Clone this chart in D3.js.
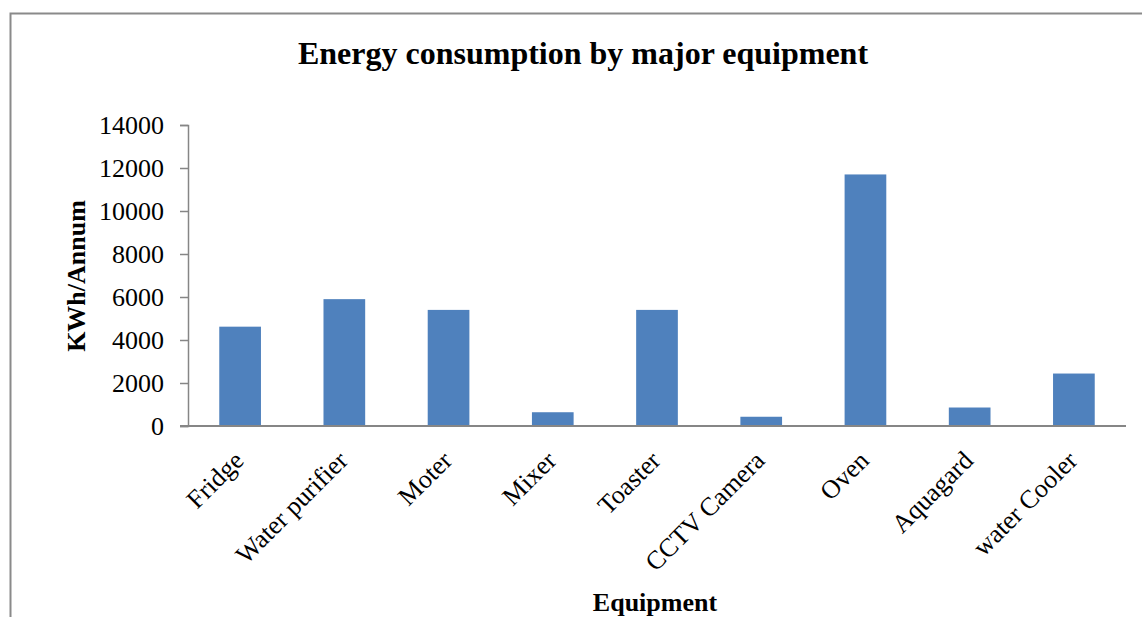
<!DOCTYPE html>
<html>
<head>
<meta charset="utf-8">
<script src="https://cdn.jsdelivr.net/npm/d3@7"></script>
<style>
  body { margin: 0; background: #fff; }
  svg text { font-family: "Liberation Serif", "Times New Roman", serif; fill: #000; }
</style>
</head>
<body>
<div id="chart"></div>
<script>
// values
var equipment = ["Fridge", "Water purifier", "Moter", "Mixer", "Toaster", "CCTV Camera", "Oven", "Aquagard", "water Cooler"];
var kwhPerAnnum = [4620, 5900, 5400, 640, 5400, 430, 11700, 860, 2440];
var yTicks = [0, 2000, 4000, 6000, 8000, 10000, 12000, 14000];

var width = 1142,
height = 617;

// plot area edges
var plotLeft = 188, plotRight = 1126, plotTop = 125, plotBottom = 426;

var svg = d3.select("#chart").append("svg")
  .attr("width", width)
  .attr("height", height);

// outer chart border (cut off on right and bottom)
svg.append("rect")
  .attr("x", 10.5)
  .attr("y", 13.5)
  .attr("width", width + 20)
  .attr("height", height + 20)
  .attr("fill", "none")
  .attr("stroke", "#8a8a8a")
  .attr("stroke-width", 2);

var x = d3.scaleBand()
  .domain(equipment)
  .range([plotLeft, plotRight])
  .paddingInner(0.6)
  .paddingOuter(0.3);

var y = d3.scaleLinear()
  .domain([0, 14000])
  .range([plotBottom, plotTop]);

// bars
svg.append("g").selectAll("rect")
  .data(equipment)
  .enter()
  .append("rect")
  .attr("x", function(d) { return x(d); })
  .attr("width", x.bandwidth())
  .attr("y", function(d, i) { return y(kwhPerAnnum[i]); })
  .attr("height", function(d, i) { return plotBottom - y(kwhPerAnnum[i]); })
  .attr("fill", "#4f81bd");

// y axis
var yAxis = d3.axisLeft(y)
  .tickValues(yTicks)
  .tickSize(8)
  .tickPadding(16)
  .tickFormat(d3.format("d"));

var yg = svg.append("g")
  .attr("transform", "translate(" + plotLeft + ",0)")
  .call(yAxis);
yg.select(".domain").attr("stroke", "#868686").attr("stroke-width", 1.5);
yg.selectAll(".tick line").attr("stroke", "#868686").attr("stroke-width", 1.5);
yg.selectAll(".tick text")
  .style("font-family", "'Liberation Serif', serif")
  .style("font-size", "26px")
  .attr("fill", "#000");

// x axis
var xAxis = d3.axisBottom(x).tickSize(0).tickFormat("");
var xg = svg.append("g")
  .attr("transform", "translate(0," + plotBottom + ")")
  .call(xAxis);
xg.select(".domain")
  .attr("d", "M" + (plotLeft - 8) + ",0H" + plotRight)
  .attr("stroke", "#868686")
  .attr("stroke-width", 2);

// rotated category labels
svg.append("g").selectAll("text")
  .data(equipment)
  .enter()
  .append("text")
  .attr("transform", function(d) {
    return "translate(" + (x(d) + x.bandwidth() / 2 + 5) + "," + 462 + ") rotate(-45)";
  })
  .style("text-anchor", "end")
  .style("font-size", "26px")
  .text(function(d) { return d; });

// title
svg.append("text")
  .attr("x", 583)
  .attr("y", 64)
  .style("text-anchor", "middle")
  .style("font-size", "32px")
  .style("font-weight", "bold")
  .text("Energy consumption by major equipment");

// y axis title
svg.append("text")
  .attr("transform", "translate(85,276) rotate(-90)")
  .style("text-anchor", "middle")
  .style("font-size", "26px")
  .style("font-weight", "bold")
  .text("KWh/Annum");

// x axis title
svg.append("text")
  .attr("x", 655)
  .attr("y", 611)
  .style("text-anchor", "middle")
  .style("font-size", "26px")
  .style("font-weight", "bold")
  .text("Equipment");
</script>
</body>
</html>
